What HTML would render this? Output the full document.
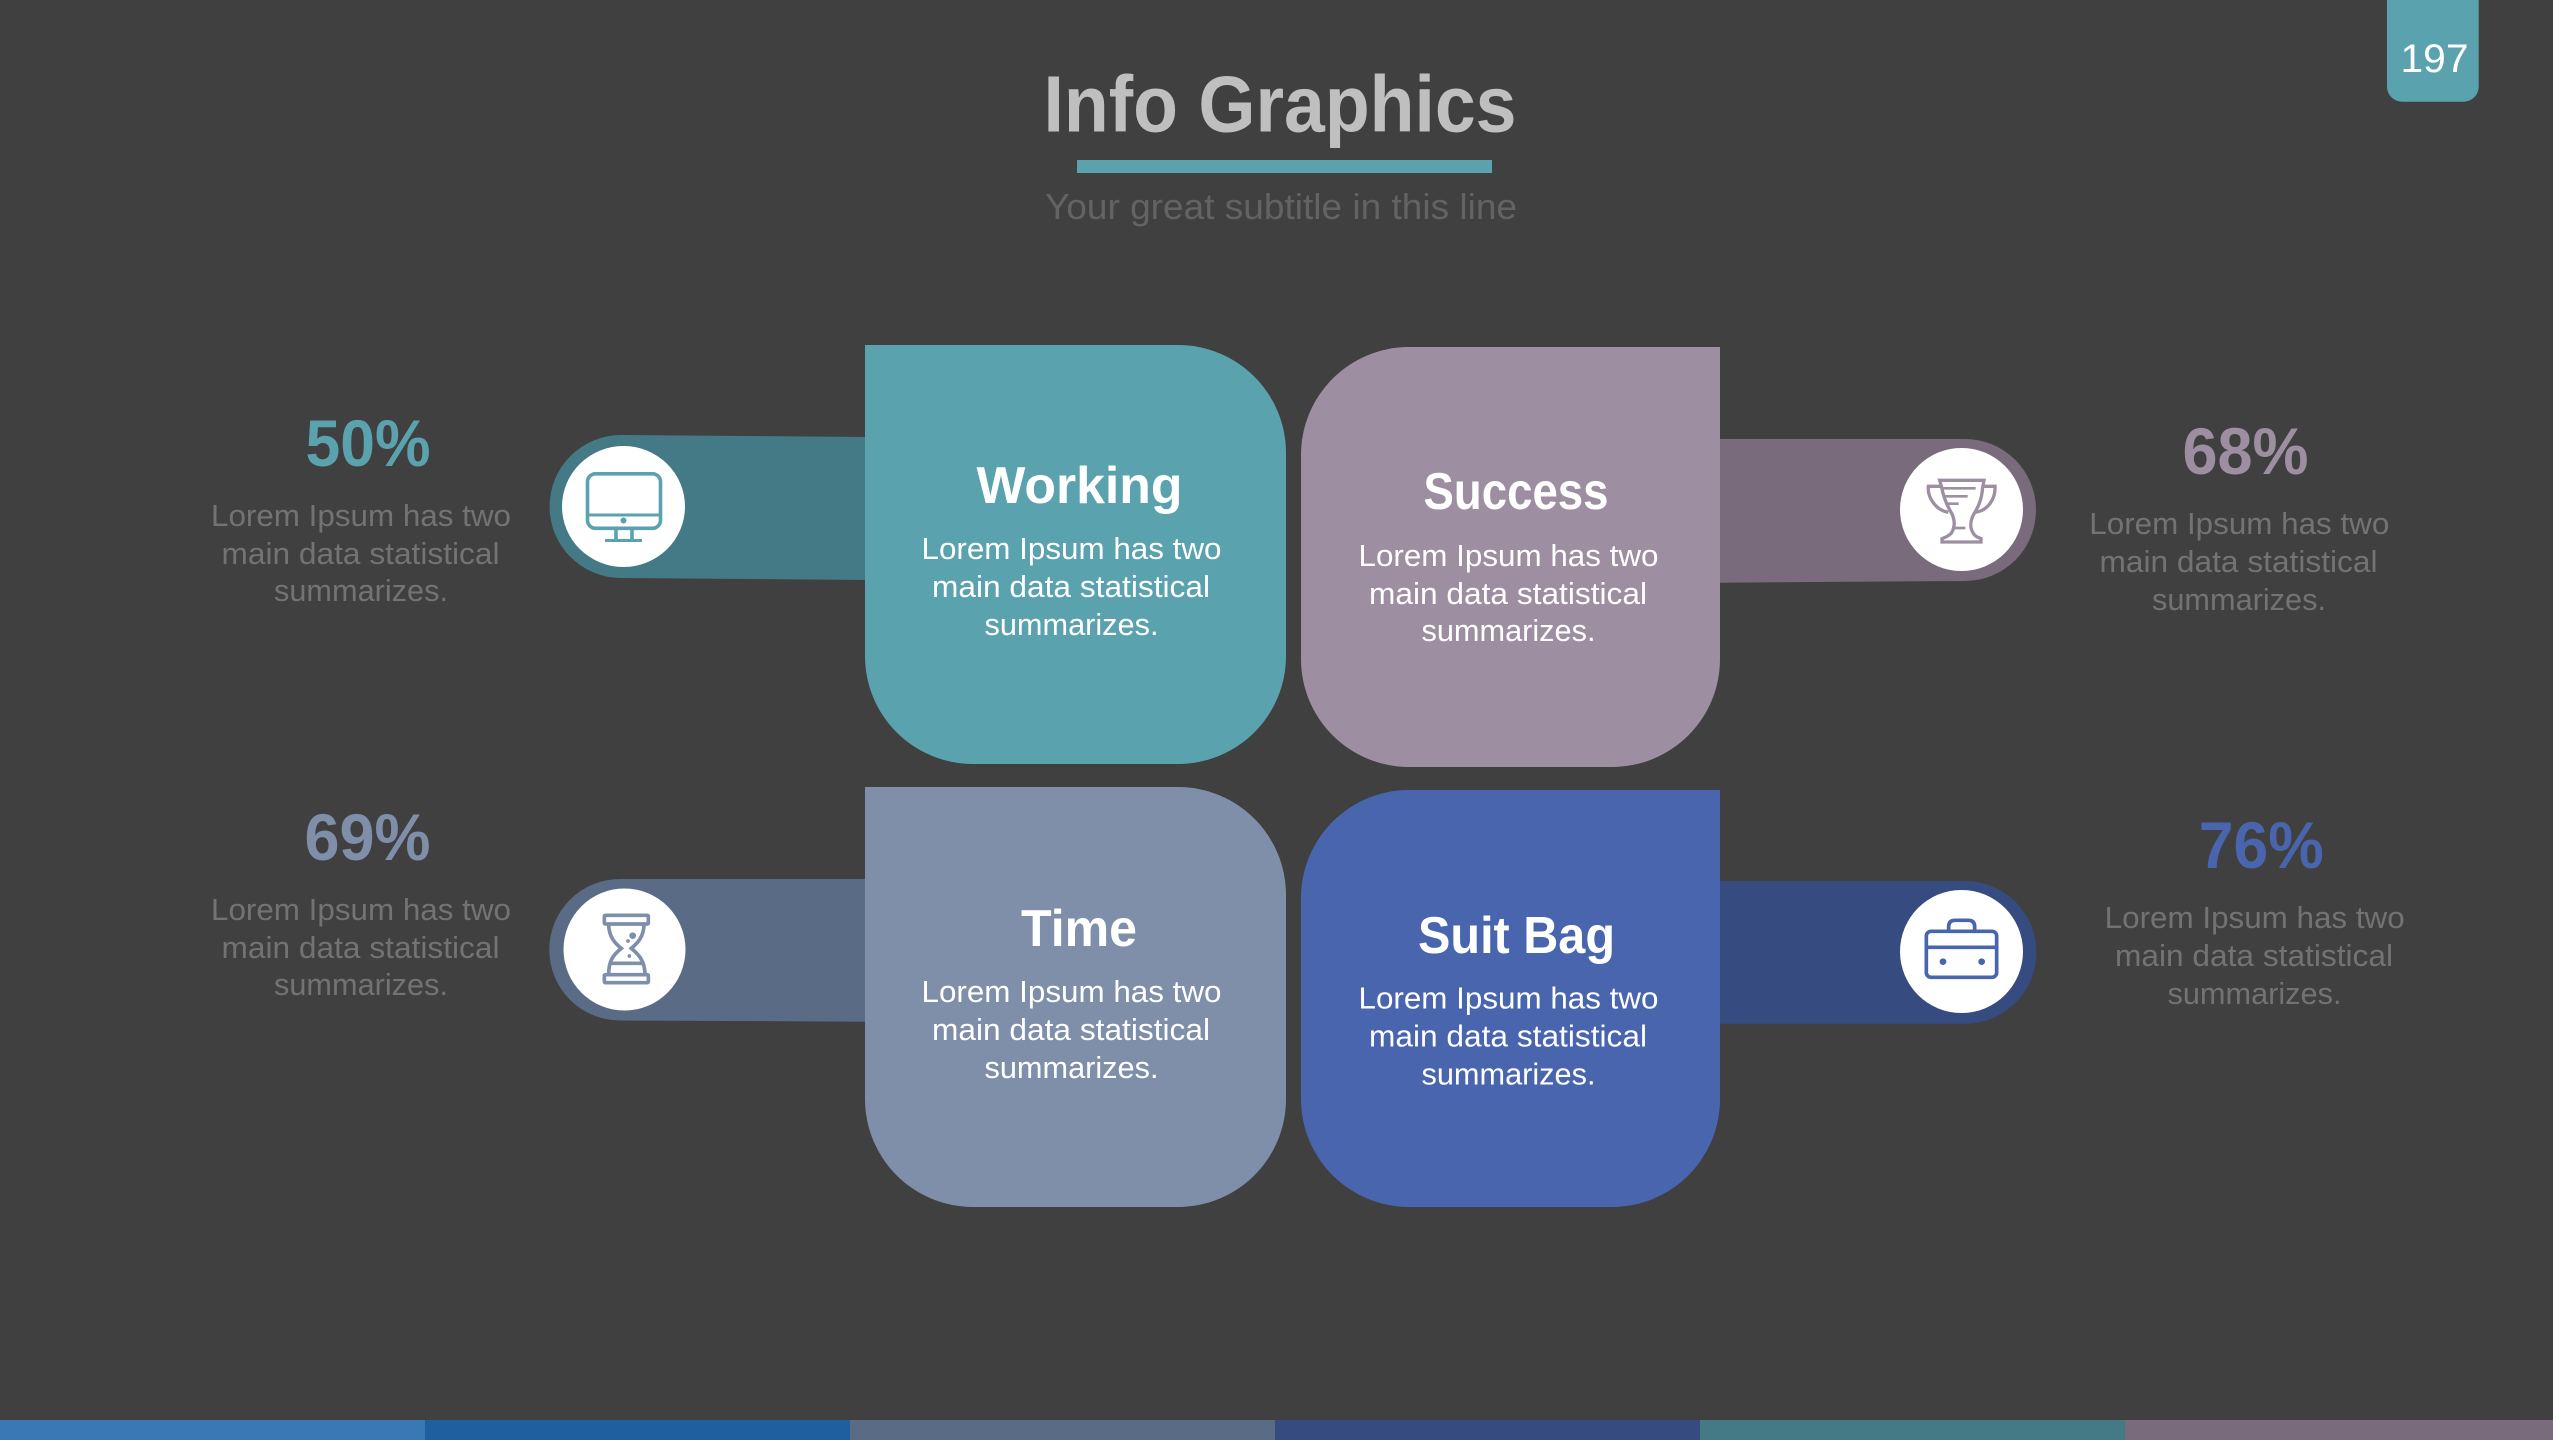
<!DOCTYPE html>
<html>
<head>
<meta charset="utf-8">
<style>
html,body{margin:0;padding:0;background:#404040;width:2553px;height:1440px;overflow:hidden}
svg{display:block}
text{font-family:"Liberation Sans",sans-serif}
.b{font-size:31px;fill:#fff}
.g{font-size:31px;fill:#737373}
.t{font-size:52px;font-weight:bold;fill:#fff}
.p{font-size:66px;font-weight:bold}
</style>
</head>
<body>
<svg width="2553" height="1440" viewBox="0 0 2553 1440" xmlns="http://www.w3.org/2000/svg">
<rect width="2553" height="1440" fill="#404040"/>

<!-- bottom strip -->
<rect x="0" y="1420" width="425" height="20" fill="#3A78B5"/>
<rect x="425" y="1420" width="425" height="20" fill="#1F5FA0"/>
<rect x="850" y="1420" width="425" height="20" fill="#5A6B85"/>
<rect x="1275" y="1420" width="425" height="20" fill="#364C80"/>
<rect x="1700" y="1420" width="425" height="20" fill="#447A85"/>
<rect x="2125" y="1420" width="428" height="20" fill="#7A6B7C"/>

<!-- page tab -->
<path d="M2387 0H2478.7V86.7A15 15 0 0 1 2463.7 101.7H2402A15 15 0 0 1 2387 86.7Z" fill="#5BA2AF"/>
<text x="2400.5" y="72" font-size="40" fill="#fff" textLength="68" lengthAdjust="spacingAndGlyphs">197</text>

<!-- header -->
<text x="1043.5" y="131.5" font-size="80" font-weight="bold" fill="#BFBFBF" textLength="473" lengthAdjust="spacingAndGlyphs">Info Graphics</text>
<rect x="1077" y="160" width="415" height="13" fill="#5BA2AF"/>
<text x="1045" y="219" font-size="36" fill="#636363" textLength="472" lengthAdjust="spacingAndGlyphs">Your great subtitle in this line</text>

<!-- bars -->
<path d="M870 437L621 435A70 70 0 0 0 621 578L870 580Z" fill="#447A85"/>
<path d="M1715 439H1965A70 70 0 0 1 1965 581L1715 582.7Z" fill="#7A6B7C"/>
<path d="M870 879H620A70 70 0 0 0 620 1020.5L870 1021.7Z" fill="#5A6B85"/>
<path d="M1715 881H1965A70 70 0 0 1 1965 1023.7H1715Z" fill="#364C80"/>

<!-- cards -->
<path d="M865 345H1178A108 108 0 0 1 1286 453V656A108 108 0 0 1 1178 764H973A108 108 0 0 1 865 656Z" fill="#5BA2AF"/>
<path d="M1409 347H1720V659A108 108 0 0 1 1612 767H1409A108 108 0 0 1 1301 659V455A108 108 0 0 1 1409 347Z" fill="#9D8FA1"/>
<path d="M865 787H1178A108 108 0 0 1 1286 895V1099A108 108 0 0 1 1178 1207H973A108 108 0 0 1 865 1099Z" fill="#7F8FAA"/>
<path d="M1409 790H1720V1099A108 108 0 0 1 1612 1207H1409A108 108 0 0 1 1301 1099V898A108 108 0 0 1 1409 790Z" fill="#4965AE"/>

<!-- white discs -->
<ellipse cx="623.5" cy="506.5" rx="61.5" ry="60.5" fill="#fff"/>
<circle cx="1961.5" cy="509.5" r="61.5" fill="#fff"/>
<circle cx="624.5" cy="949.5" r="61" fill="#fff"/>
<circle cx="1961.5" cy="951.5" r="61.5" fill="#fff"/>

<!-- monitor icon -->
<g fill="none" stroke="#5BA2AF" stroke-width="3.6">
<rect x="587.5" y="473.8" width="73" height="54.5" rx="8"/>
<path d="M587 515H661" stroke-width="3"/>
<path d="M616 530V539M632 530V539"/>
<path d="M605 540.5H642" stroke-width="3"/>
</g>
<circle cx="623.5" cy="520.5" r="3" fill="#5BA2AF"/>

<!-- trophy icon -->
<g transform="translate(1680 400) scale(.33333)" fill="none" stroke="#9D8FA1" stroke-width="10">
<path d="M779 241H912L908 262C905 300 895 320 880 345C870 365 870 385 880 400C885 410 895 412 903 416V426H786V416C795 412 808 408 815 398C825 380 825 360 815 340C800 315 790 290 785 262Z"/>
<path d="M785 259H745C742 290 765 330 805 337M905 259H945C947 295 925 332 885 337"/>
<path d="M785 265H887M795 289H863M803 311H836M822 384H856" stroke-width="8"/>
</g>

<!-- hourglass icon -->
<g transform="translate(530 860) scale(.33333)" fill="none" stroke="#7F8FAA" stroke-width="11">
<rect x="223" y="166" width="132" height="26" rx="3"/>
<rect x="223" y="344" width="132" height="24" rx="3"/>
<path d="M236 192C236 230 255 250 274 265C250 285 236 300 236 344M342 192C342 230 322 250 304 265C322 280 345 300 345 344"/>
<path d="M240 310H340"/>
<g fill="#7F8FAA" stroke="none">
<circle cx="308" cy="227" r="10"/>
<circle cx="294" cy="243" r="5.5"/>
<circle cx="298" cy="288" r="5.5"/>
</g>
</g>

<!-- briefcase icon -->
<g transform="translate(1680 860) scale(.33333)" fill="none" stroke="#4965AE" stroke-width="11">
<rect x="739" y="214" width="211" height="138" rx="14"/>
<path d="M739 262H950"/>
<path d="M806 214V200Q806 181 825 181H865Q884 181 884 200V214"/>
<g fill="#4965AE" stroke="none">
<circle cx="789" cy="305" r="10"/>
<circle cx="905" cy="305" r="10"/>
</g>
</g>

<!-- Working -->
<text class="t" x="976.5" y="503" textLength="206" lengthAdjust="spacingAndGlyphs">Working</text>
<text class="b" x="921.5" y="559" textLength="300" lengthAdjust="spacingAndGlyphs">Lorem Ipsum has two</text>
<text class="b" x="932" y="597" textLength="278" lengthAdjust="spacingAndGlyphs">main data statistical</text>
<text class="b" x="984.5" y="635" textLength="174" lengthAdjust="spacingAndGlyphs">summarizes.</text>

<!-- Success -->
<text class="t" x="1423.5" y="509" textLength="185" lengthAdjust="spacingAndGlyphs">Success</text>
<text class="b" x="1358.5" y="566" textLength="300" lengthAdjust="spacingAndGlyphs">Lorem Ipsum has two</text>
<text class="b" x="1369" y="604" textLength="278" lengthAdjust="spacingAndGlyphs">main data statistical</text>
<text class="b" x="1421.5" y="641" textLength="174" lengthAdjust="spacingAndGlyphs">summarizes.</text>

<!-- Time -->
<text class="t" x="1021" y="946" textLength="116" lengthAdjust="spacingAndGlyphs">Time</text>
<text class="b" x="921.5" y="1002" textLength="300" lengthAdjust="spacingAndGlyphs">Lorem Ipsum has two</text>
<text class="b" x="932" y="1040" textLength="278" lengthAdjust="spacingAndGlyphs">main data statistical</text>
<text class="b" x="984.5" y="1078" textLength="174" lengthAdjust="spacingAndGlyphs">summarizes.</text>

<!-- Suit Bag -->
<text class="t" x="1418" y="953" textLength="197" lengthAdjust="spacingAndGlyphs">Suit Bag</text>
<text class="b" x="1358.5" y="1008.5" textLength="300" lengthAdjust="spacingAndGlyphs">Lorem Ipsum has two</text>
<text class="b" x="1369" y="1046.5" textLength="278" lengthAdjust="spacingAndGlyphs">main data statistical</text>
<text class="b" x="1421.5" y="1084.5" textLength="174" lengthAdjust="spacingAndGlyphs">summarizes.</text>

<!-- 50% -->
<text class="p" x="305.5" y="466" fill="#5BA2AF" textLength="125" lengthAdjust="spacingAndGlyphs">50%</text>
<text class="g" x="211" y="526" textLength="300" lengthAdjust="spacingAndGlyphs">Lorem Ipsum has two</text>
<text class="g" x="221.5" y="564" textLength="278" lengthAdjust="spacingAndGlyphs">main data statistical</text>
<text class="g" x="274" y="601" textLength="174" lengthAdjust="spacingAndGlyphs">summarizes.</text>

<!-- 69% -->
<text class="p" x="304.5" y="860" fill="#7F8FAA" textLength="126" lengthAdjust="spacingAndGlyphs">69%</text>
<text class="g" x="211" y="920" textLength="300" lengthAdjust="spacingAndGlyphs">Lorem Ipsum has two</text>
<text class="g" x="221.5" y="958" textLength="278" lengthAdjust="spacingAndGlyphs">main data statistical</text>
<text class="g" x="274" y="995" textLength="174" lengthAdjust="spacingAndGlyphs">summarizes.</text>

<!-- 68% -->
<text class="p" x="2182.5" y="474" fill="#9D8FA1" textLength="126" lengthAdjust="spacingAndGlyphs">68%</text>
<text class="g" x="2089.3" y="534" textLength="300" lengthAdjust="spacingAndGlyphs">Lorem Ipsum has two</text>
<text class="g" x="2099.5" y="572" textLength="278" lengthAdjust="spacingAndGlyphs">main data statistical</text>
<text class="g" x="2152" y="610" textLength="174" lengthAdjust="spacingAndGlyphs">summarizes.</text>

<!-- 76% -->
<text class="p" x="2198.8" y="868" fill="#4965AE" textLength="125" lengthAdjust="spacingAndGlyphs">76%</text>
<text class="g" x="2104.7" y="928" textLength="300" lengthAdjust="spacingAndGlyphs">Lorem Ipsum has two</text>
<text class="g" x="2115" y="966" textLength="278" lengthAdjust="spacingAndGlyphs">main data statistical</text>
<text class="g" x="2167.5" y="1004" textLength="174" lengthAdjust="spacingAndGlyphs">summarizes.</text>
</svg>
</body>
</html>
